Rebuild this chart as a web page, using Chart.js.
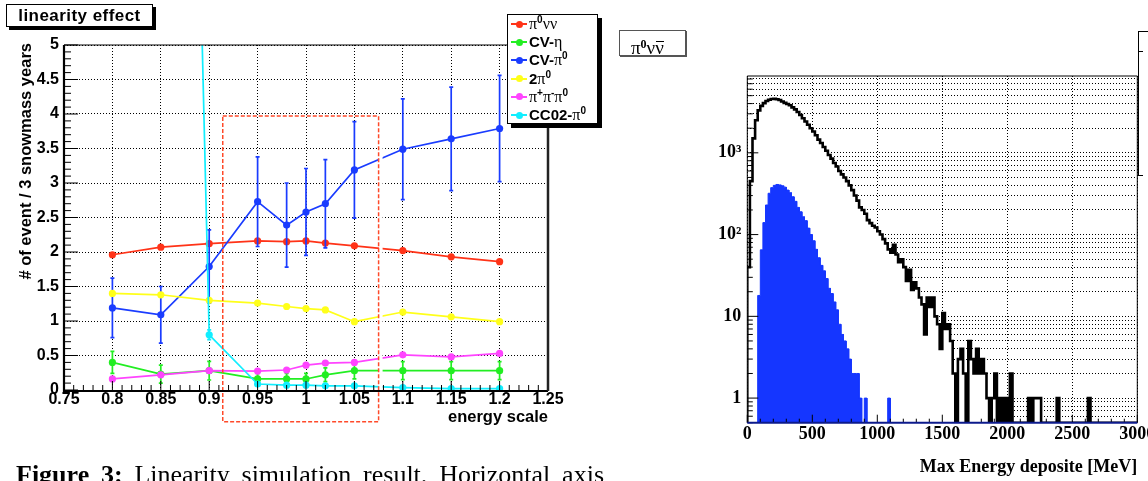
<!DOCTYPE html>
<html>
<head>
<meta charset="utf-8">
<script src="https://cdn.jsdelivr.net/npm/chart.js@4.4.1/dist/chart.umd.min.js"></script>
<style>
html,body{margin:0;padding:0;background:#fff;overflow:hidden;}
body{width:1148px;height:481px;position:relative;}
canvas{position:absolute;top:0;}
#c1{left:0;}
#c2{left:610px;}
.box{position:absolute;background:#fff;border:1px solid #000;box-sizing:border-box;}
#title1{left:6px;top:4px;width:147px;height:23px;box-shadow:3px 3px 0 #000;font:bold 17px "Liberation Sans",Arial,sans-serif;letter-spacing:0.45px;text-align:center;line-height:21px;}
#legend{left:507px;top:14px;width:91px;height:110px;box-shadow:4px 4px 0 #000;}
.row{position:absolute;left:0;height:0;width:88px;}
.sym{position:absolute;left:3px;width:16px;height:2px;top:-1px;}
.dot{position:absolute;left:7.5px;top:-3.5px;width:7px;height:7px;border-radius:50%;}
.lab{position:absolute;left:21px;top:-9px;font:bold 15px "Liberation Sans",Arial,sans-serif;white-space:nowrap;line-height:18px;}
.g{font-family:"Liberation Serif","Times New Roman",serif;font-weight:normal;font-size:16px;}
.lab sup{font-size:10px;line-height:0;vertical-align:6px;}
#title2{left:619px;top:30px;width:67px;height:26px;border-color:#555;box-shadow:1px 1px 0 #555;}
#title2 .t{position:absolute;left:11px;top:6.6px;font:19px "Liberation Serif","Times New Roman",serif;line-height:20px;white-space:nowrap;}
#title2 sup{font:bold 12px "Liberation Serif",serif;line-height:0;vertical-align:6px;}
.nubar{position:relative;}
.nubar::after{content:'';position:absolute;left:1px;right:0;top:4.6px;border-top:1.5px solid #000;}
#stat{position:absolute;left:1138px;top:31px;width:20px;height:144px;border-left:1px solid #000;border-top:1px solid #000;}
.stl{position:absolute;left:0;width:4px;border-top:1px solid #000;}
#caption{position:absolute;left:16px;top:462px;width:588px;font:26px "Liberation Serif","Times New Roman",serif;line-height:26px;text-align:justify;text-align-last:justify;white-space:nowrap;}
</style>
</head>
<body>
<canvas id="c1" width="610" height="481"></canvas>
<canvas id="c2" width="560" height="481"></canvas>
<div class="box" id="title1">linearity effect</div>
<div class="box" id="legend"></div>
<div class="box" id="title2"><span class="t">π<sup>0</sup>ν<span class="nubar">ν</span></span></div>
<div id="stat"><div class="stl" style="top:19px"></div><div class="stl" style="top:143px"></div></div>
<div id="caption"><b>Figure 3:</b> Linearity simulation result. Horizontal axis</div>
<script>
// ---------------- LEFT CHART DATA ----------------
const energyScale = [0.8, 0.85, 0.9, 0.95, 0.98, 1.0, 1.02, 1.05, 1.1, 1.15, 1.2];
const pi0nunu   = [1.96, 2.07, 2.12, 2.16, 2.15, 2.16, 2.13, 2.09, 2.02, 1.93, 1.86];
const cvEta     = [0.40, 0.23, 0.28, 0.16, 0.16, 0.16, 0.22, 0.28, 0.28, 0.28, 0.28];
const cvEtaErr  = [0.16, 0.13, 0.135, 0.08, 0.08, 0.08, 0.10, 0.12, 0.13, 0.13, 0.13];
const cvPi0     = [1.19, 1.09, 1.79, 2.73, 2.39, 2.58, 2.70, 3.19, 3.49, 3.64, 3.79];
const cvPi0Err  = [0.43, 0.41, 0.53, 0.65, 0.61, 0.63, 0.64, 0.70, 0.73, 0.75, 0.77];
const twoPi0    = [1.40, 1.38, 1.30, 1.26, 1.21, 1.18, 1.16, 0.99, 1.13, 1.06, 0.99];
const pipPimPi0 = [0.16, 0.22, 0.28, 0.275, 0.29, 0.36, 0.39, 0.40, 0.51, 0.48, 0.53];
const cc02Pi0   = [null, 30, 0.80, 0.087, 0.07, 0.07, 0.06, 0.06, 0.035, 0.02, 0.02];
const cc02Pi0Err= [0, 0, 0.07, 0, 0, 0, 0, 0, 0, 0, 0];
const seriesLabels = [
  '<span class="g">π</span><sup>0</sup><span class="g">νν</span>',
  'CV-<span class="g">η</span>',
  'CV-<span class="g">π</span><sup>0</sup>',
  '2<span class="g">π</span><sup>0</sup>',
  '<span class="g">π</span><sup>+</sup><span class="g">π</span><sup>-</sup><span class="g">π</span><sup>0</sup>',
  'CC02-<span class="g">π</span><sup>0</sup>'
];
const xTickValues = [0.75, 0.8, 0.85, 0.9, 0.95, 1.0, 1.05, 1.1, 1.15, 1.2, 1.25];
const xTickLabels = ['0.75','0.8','0.85','0.9','0.95','1','1.05','1.1','1.15','1.2','1.25'];
const yTickValues = [0, 0.5, 1, 1.5, 2, 2.5, 3, 3.5, 4, 4.5, 5];
const yTickLabels = ['0','0.5','1','1.5','2','2.5','3','3.5','4','4.5','5'];
const xTitle = 'energy scale';
const yTitle = '# of event / 3 snowmass years';
// signal region box (data units): x from, x to, y from, y to
const regionX = [0.914, 1.075];
const regionY = [-0.46, 3.97];

// ---------------- RIGHT CHART DATA ----------------
const histLow = 0;      // MeV
const binWidth = 20;    // MeV
const blackCounts = [
  40,450,1500,2500,3300,3750,4050,4300,4450,4550,
  4580,4520,4420,4250,4080,3950,3820,3600,3400,3150,
  2900,2650,2420,2200,2000,1820,1640,1450,1320,1180,
  1060,940,850,750,680,600,545,500,450,400,
  350,300,260,215,200,180,150,138,128,122,
  110,100,88,78,66,60,75,57,46,50,
  40,27,37,21,26,22,17,14,6,17,
  13,17,10,8,4,11,7,8,5,2,
  0,3,4,2,0,5,3,2,4,2,
  3,2,1,0,1,2,0,1,0,1,
  0,2,0,0,0,0,0,0,1,0,
  1,1,1,0,0,0,0,0,0,1,
  0,0,0,0,0,0,0,0,0,0,
  0,1,0,0,0,0,0,0,0,0,
  0,0,0,0,0,0,0,0,0,0
];
const blueCounts = [
  0,0,0,0,18,65,140,230,320,375,
  400,410,405,395,380,350,325,290,255,215,
  190,165,148,120,100,84,66,52,42,36,
  29,22,19,15,12,8,6,5,4,3,
  2,2,2,1,0,1,0,0,0,0,
  0,0,0,0,1,0
];
const hxTickValues = [0, 500, 1000, 1500, 2000, 2500, 3000];
const hxTickLabels = ['0','500','1000','1500','2000','2500','3000'];
const hyMajorValues = [1, 10, 100, 1000];
const hyMajorLabels = ['1','10','10²','10³'];
const hxTitle = 'Max Energy deposite [MeV]';
const Y_MIN = 0.5, Y_MAX = 8700, X_MAX = 3000;

// ---------------- STYLES ----------------
const colors = ['#ff3318', '#22ee22', '#1a3cff', '#ffff1a', '#ff44ff', '#11eeff'];
const sansBold = (s) => ({family: '"Liberation Sans", Arial, sans-serif', size: s, weight: 'bold'});
const serifBold = (s) => ({family: '"Liberation Serif", "Times New Roman", serif', size: s, weight: 'bold'});

// legend (HTML)
const legendEl = document.getElementById('legend');
seriesLabels.forEach((lab, i) => {
  const r = document.createElement('div');
  r.className = 'row';
  r.style.top = (9 + 18.2 * i) + 'px';
  r.innerHTML = `<div class="sym" style="background:${colors[i]}"></div><div class="dot" style="background:${colors[i]}"></div><div class="lab">${lab}</div>`;
  legendEl.appendChild(r);
});

function pts(vals) { return energyScale.map((x, i) => ({x, y: vals[i]})); }

const seriesValues = [pi0nunu, cvEta, cvPi0, twoPi0, pipPimPi0, cc02Pi0];
const seriesErrors = [null, cvEtaErr, cvPi0Err, null, null, cc02Pi0Err];

const leftDatasets = seriesValues.map((v, i) => ({
  label: 'series' + i,
  data: pts(v),
  errors: seriesErrors[i],
  borderColor: colors[i],
  backgroundColor: colors[i],
  pointBackgroundColor: colors[i],
  pointBorderWidth: 0,
  pointRadius: 3.6,
  borderWidth: 1.7,
  tension: 0,
  spanGaps: false,
  order: -i
}));

function minorTicks(majors, nMinor) {
  const out = [];
  for (let i = 0; i < majors.length - 1; i++) {
    const a = majors[i], b = majors[i + 1];
    for (let k = 1; k <= nMinor; k++) out.push(a + (b - a) * k / (nMinor + 1));
  }
  return out;
}

const errorBarPlugin = {
  id: 'errbars',
  afterDatasetDraw(chart, args) {
    const ds = chart.data.datasets[args.index];
    if (!ds.errors) return;
    const {ctx, chartArea: a} = chart;
    const x = chart.scales.x, y = chart.scales.y;
    ctx.save();
    ctx.beginPath(); ctx.rect(a.left, a.top, a.right - a.left, a.bottom - a.top); ctx.clip();
    ctx.strokeStyle = ds.borderColor; ctx.lineWidth = 1.7;
    ds.data.forEach((p, i) => {
      const e = ds.errors[i];
      if (p.y == null || !e) return;
      const px = x.getPixelForValue(p.x);
      const y1 = y.getPixelForValue(p.y + e), y2 = y.getPixelForValue(p.y - e);
      ctx.beginPath();
      ctx.moveTo(px, y1); ctx.lineTo(px, y2);
      ctx.moveTo(px - 2, y1); ctx.lineTo(px + 2, y1);
      ctx.moveTo(px - 2, y2); ctx.lineTo(px + 2, y2);
      ctx.stroke();
    });
    ctx.restore();
  }
};

const leftDecor = {
  id: 'leftDecor',
  afterDatasetsDraw(chart) {
    const {ctx} = chart;
    const x = chart.scales.x, y = chart.scales.y;
    const x1 = x.getPixelForValue(regionX[0]), x2 = x.getPixelForValue(regionX[1]);
    const y1 = y.getPixelForValue(regionY[1]), y2 = y.getPixelForValue(regionY[0]);
    ctx.save();
    ctx.fillStyle = '#fff';
    ctx.fillRect(x2 + 0.5, y1, 3.5, y2 - y1);
    ctx.strokeStyle = '#ff4a2a'; ctx.lineWidth = 1.5; ctx.setLineDash([4, 2]);
    ctx.strokeRect(x1, y1, x2 - x1, y2 - y1);
    ctx.restore();
  },
  afterDraw(chart) {
    const {ctx, chartArea: a} = chart;
    const x = chart.scales.x, y = chart.scales.y;
    ctx.save();
    ctx.strokeStyle = '#000';
    ctx.lineWidth = 1;
    ctx.beginPath();
    xTickValues.forEach(v => { const p = x.getPixelForValue(v); ctx.moveTo(p, a.bottom); ctx.lineTo(p, a.bottom - 9); });
    minorTicks(xTickValues, 4).forEach(v => { const p = x.getPixelForValue(v); ctx.moveTo(p, a.bottom); ctx.lineTo(p, a.bottom - 5); });
    yTickValues.forEach(v => { const p = y.getPixelForValue(v); ctx.moveTo(a.left, p); ctx.lineTo(a.left + 14, p); });
    minorTicks(yTickValues, 4).forEach(v => { const p = y.getPixelForValue(v); ctx.moveTo(a.left, p); ctx.lineTo(a.left + 7, p); });
    ctx.stroke();
    ctx.lineWidth = 1;
    ctx.beginPath(); ctx.moveTo(a.left, a.top); ctx.lineTo(a.right, a.top); ctx.stroke();
    ctx.lineWidth = 2.2;
    ctx.beginPath(); ctx.moveTo(a.left, a.top); ctx.lineTo(a.left, a.bottom + 1); ctx.lineTo(a.right, a.bottom + 1); ctx.stroke();
    ctx.strokeStyle = '#222'; ctx.lineWidth = 2.5;
    ctx.beginPath(); ctx.moveTo(a.right, a.top); ctx.lineTo(a.right, a.bottom + 1); ctx.stroke();
    ctx.fillStyle = '#000';
    ctx.font = 'bold 16.5px "Liberation Sans", Arial, sans-serif';
    ctx.textAlign = 'right'; ctx.textBaseline = 'alphabetic';
    ctx.fillText(xTitle, a.right, 422);
    ctx.translate(26, 43); ctx.rotate(-Math.PI / 2);
    ctx.textBaseline = 'middle';
    ctx.fillText(yTitle, 0, 0);
    ctx.restore();
  }
};

new Chart(document.getElementById('c1'), {
  type: 'line',
  data: {datasets: leftDatasets},
  options: {
    responsive: false, animation: false,
    layout: {padding: {left: 0, top: 45, right: 62, bottom: 0}},
    plugins: {legend: {display: false}, tooltip: {enabled: false}},
    scales: {
      x: {
        type: 'linear', min: 0.75, max: 1.25,
        afterFit(s) { s.height = 91; },
        afterBuildTicks(s) { s.ticks = xTickValues.map(v => ({value: v})); },
        ticks: {callback: (v, i) => xTickLabels[i], font: sansBold(16), color: '#000', padding: 0, maxRotation: 0, autoSkip: false},
        grid: {color: '#000', lineWidth: 1, drawTicks: false},
        border: {display: false, dash: [1, 2]}
      },
      y: {
        type: 'linear', min: 0, max: 5,
        afterFit(s) { s.width = 64; },
        afterBuildTicks(s) { s.ticks = yTickValues.map(v => ({value: v})); },
        ticks: {callback: (v, i) => yTickLabels[i], font: sansBold(16), color: '#000', padding: 5, autoSkip: false},
        grid: {color: '#000', lineWidth: 1, drawTicks: false},
        border: {display: false, dash: [1, 2]}
      }
    }
  },
  plugins: [errorBarPlugin, leftDecor]
});

// ---------------- RIGHT CHART ----------------
function histPoints(counts) {
  const out = [{x: histLow, y: Y_MIN}];
  counts.forEach((c, i) => {
    const v = c > 0 ? c : Y_MIN;
    out.push({x: histLow + i * binWidth, y: v}, {x: histLow + (i + 1) * binWidth, y: v});
  });
  out.push({x: histLow + counts.length * binWidth, y: Y_MIN});
  out.push({x: X_MAX, y: Y_MIN});
  return out;
}
const hyGrid = [];
[0.1, 1, 10, 100, 1000].forEach(d => { for (let m = 1; m <= 9; m++) { const v = +(m * d).toPrecision(3); if (v >= Y_MIN && v <= Y_MAX) hyGrid.push(v); } });

const rightDecor = {
  id: 'rightDecor',
  afterDraw(chart) {
    const {ctx, chartArea: a} = chart;
    const x = chart.scales.x, y = chart.scales.y;
    ctx.save();
    ctx.strokeStyle = '#000'; ctx.lineWidth = 1;
    ctx.beginPath();
    hxTickValues.forEach(v => { const p = x.getPixelForValue(v); ctx.moveTo(p, a.bottom); ctx.lineTo(p, a.bottom - 8); });
    minorTicks(hxTickValues, 4).forEach(v => { const p = x.getPixelForValue(v); ctx.moveTo(p, a.bottom); ctx.lineTo(p, a.bottom - 4); });
    hyGrid.forEach(v => { const p = y.getPixelForValue(v); const L = hyMajorValues.includes(v) ? 11 : 5.5; ctx.moveTo(a.left, p); ctx.lineTo(a.left + L, p); });
    ctx.stroke();
    ctx.beginPath();
    ctx.moveTo(a.left, a.bottom); ctx.lineTo(a.left, a.top); ctx.lineTo(a.right, a.top); ctx.lineTo(a.right, a.bottom);
    ctx.stroke();
    ctx.strokeStyle = '#0c1a8c'; ctx.lineWidth = 2;
    ctx.beginPath(); ctx.moveTo(a.left, a.bottom); ctx.lineTo(a.right, a.bottom); ctx.stroke();
    ctx.fillStyle = '#000';
    ctx.font = 'bold 18px "Liberation Serif", "Times New Roman", serif';
    ctx.textAlign = 'right'; ctx.textBaseline = 'alphabetic';
    ctx.fillText(hxTitle, a.right, 472);
    ctx.restore();
  }
};

new Chart(document.getElementById('c2'), {
  type: 'line',
  data: {datasets: [
    {data: histPoints(blackCounts), borderColor: '#000', borderWidth: 2.6, backgroundColor: '#fff', fill: 'start', pointRadius: 0, tension: 0, order: 2},
    {data: histPoints(blueCounts), borderColor: '#1536ff', borderWidth: 1, backgroundColor: '#1536ff', fill: 'start', pointRadius: 0, tension: 0, order: 1}
  ]},
  options: {
    responsive: false, animation: false,
    layout: {padding: {left: 97.3, top: 76, right: 32.7, bottom: 28.3}},
    plugins: {legend: {display: false}, tooltip: {enabled: false}},
    scales: {
      x: {
        type: 'linear', min: 0, max: X_MAX,
        afterFit(s) { s.height = 30; },
        afterBuildTicks(s) { s.ticks = hxTickValues.map(v => ({value: v})); },
        ticks: {callback: (v, i) => hxTickLabels[i], font: serifBold(18), color: '#000', padding: 1, maxRotation: 0, autoSkip: false},
        grid: {color: '#000', lineWidth: 1, drawTicks: false},
        border: {display: false, dash: [1, 2]}
      },
      y: {
        type: 'logarithmic', min: Y_MIN, max: Y_MAX,
        afterFit(s) { s.width = 40; },
        afterBuildTicks(s) { s.ticks = hyGrid.map(v => ({value: v})); },
        ticks: {callback: (v) => { const k = hyMajorValues.indexOf(v); return k >= 0 ? hyMajorLabels[k] : ''; }, font: serifBold(18), color: '#000', padding: 6, autoSkip: false},
        grid: {color: '#000', lineWidth: 1, drawTicks: false},
        border: {display: false, dash: [1, 2]}
      }
    }
  },
  plugins: [rightDecor]
});
</script>
</body>
</html>
